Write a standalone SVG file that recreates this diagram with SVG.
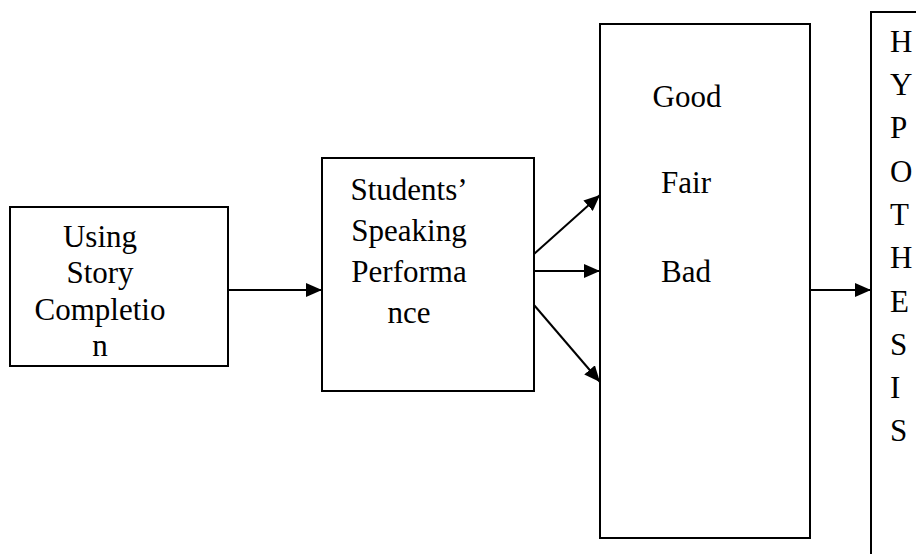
<svg xmlns="http://www.w3.org/2000/svg" width="916" height="554" viewBox="0 0 916 554">
<style>
.box{fill:#fff;stroke:#000;stroke-width:2}
text{font-family:'Liberation Serif','DejaVu Serif',serif;font-size:31px;fill:#000}
.c{text-anchor:middle}
.edge{stroke:#000;stroke-width:2;fill:none;marker-end:url(#ah)}
</style>
<defs>
<marker id="ah" markerUnits="userSpaceOnUse" markerWidth="16" markerHeight="14" refX="16" refY="7" orient="auto">
<path d="M0,0 L16,7 L0,14 Z" fill="#000"/>
</marker>
</defs>
<rect width="916" height="554" fill="#fff"/>
<g id="node-using">
<rect class="box" x="10" y="207" width="218" height="159"/>
<text class="c" x="100" y="247" font-family="Liberation Serif, serif">Using</text>
<text class="c" x="100" y="283" font-family="Liberation Serif, serif">Story</text>
<text class="c" x="100" y="320" font-family="Liberation Serif, serif">Completio</text>
<text class="c" x="100" y="356" font-family="Liberation Serif, serif">n</text>
</g>
<g id="node-performance">
<rect class="box" x="322" y="158" width="212" height="233"/>
<text class="c" x="409" y="200" font-family="Liberation Serif, serif">Students’</text>
<text class="c" x="409" y="241" font-family="Liberation Serif, serif">Speaking</text>
<text class="c" x="409" y="282" font-family="Liberation Serif, serif">Performa</text>
<text class="c" x="409" y="323" font-family="Liberation Serif, serif">nce</text>
</g>
<g id="node-levels">
<rect class="box" x="600" y="24" width="210" height="514"/>
<text class="c" x="687" y="107" font-family="Liberation Serif, serif">Good</text>
<text class="c" x="686" y="193" font-family="Liberation Serif, serif">Fair</text>
<text class="c" x="686" y="282" font-family="Liberation Serif, serif">Bad</text>
</g>
<g id="node-hypothesis" font-family="Liberation Serif, serif">
<rect class="box" x="871" y="12" width="100" height="600"/>
<text x="890" y="52">H</text>
<text x="890" y="95">Y</text>
<text x="890" y="138">P</text>
<text x="890" y="182">O</text>
<text x="890" y="225">T</text>
<text x="890" y="268">H</text>
<text x="890" y="312">E</text>
<text x="890" y="355">S</text>
<text x="890" y="398">I</text>
<text x="890" y="441">S</text>
</g>
<g id="connectors">
<line class="edge" x1="228" y1="290" x2="322" y2="290"/>
<line class="edge" x1="534" y1="254" x2="600" y2="195"/>
<line class="edge" x1="534" y1="271" x2="600" y2="271"/>
<line class="edge" x1="534" y1="305" x2="600" y2="382"/>
<line class="edge" x1="810" y1="290" x2="871" y2="290"/>
</g>
</svg>
